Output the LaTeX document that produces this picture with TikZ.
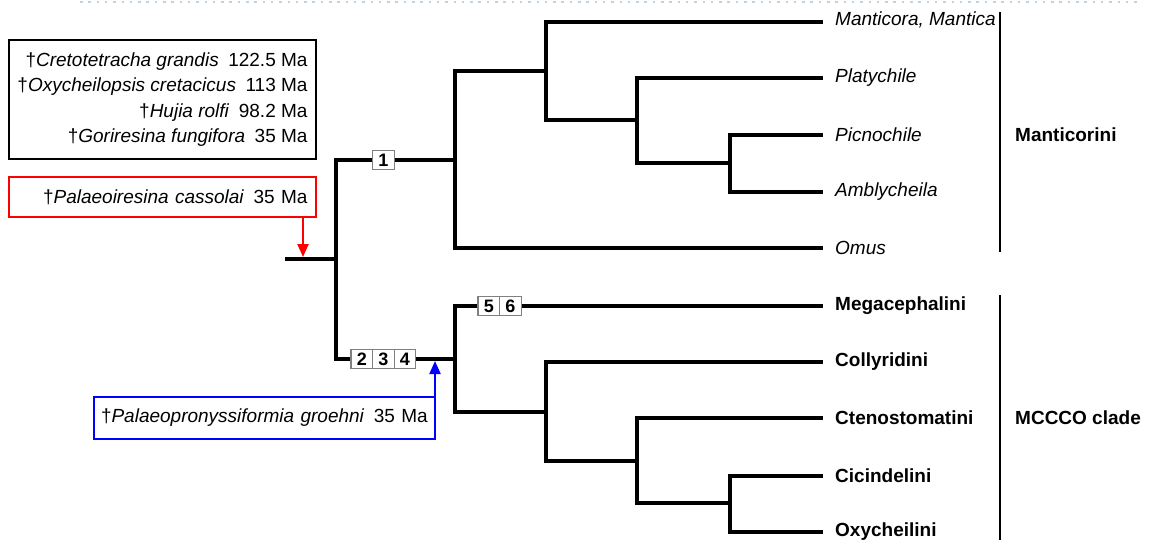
\documentclass[tikz,border=0pt]{standalone}
\usepackage{fontspec}
\setmainfont{Liberation Sans}
\usepackage{tikz}
\usetikzlibrary{arrows.meta}
\usetikzlibrary{positioning}

\begin{document}
\begin{tikzpicture}[x=1pt,y=-1pt,
  br/.style={line width=4pt},
  clade/.style={line width=2pt},
  chbox/.style={draw=gray,line width=1.2pt,fill=white,inner sep=0pt,outer sep=0pt,
    minimum width=21.6pt,minimum height=19.5pt,font=\fontsize{18}{18}\selectfont\bfseries},
  tip/.style={anchor=west,inner sep=0pt,font=\fontsize{19}{22}\selectfont\itshape},
  tribe/.style={anchor=west,inner sep=0pt,font=\fontsize{19}{22}\selectfont\bfseries},
  fossil/.style={inner xsep=8.5pt,inner ysep=0pt,minimum width=307pt,
    font=\fontsize{19}{25.3}\selectfont}]
\useasboundingbox (0,0) rectangle (1156,540);
\clip (0,0) rectangle (1156,540);
\draw[color={rgb,255:red,190;green,210;blue,226},line width=2.5pt,dash pattern=on 2.5pt off 5.8pt] (80,2) -- (1142,2);

\node[fossil,draw=black,line width=1.5pt,align=right,minimum height=119pt] (fos) at (162.5,99.5)
  {\textdagger\textit{Cretotetracha grandis}\hspace{0.5em}122.5 Ma\\
   \textdagger\textit{Oxycheilopsis cretacicus}\hspace{0.5em}113 Ma\\
   \textdagger\textit{Hujia rolfi}\hspace{0.5em}98.2 Ma\\
   \textdagger\textit{Goriresina fungifora}\hspace{0.5em}35 Ma};
\node[fossil,draw=red,line width=1.5pt,align=right,text width=290pt,minimum height=40pt] (pcas) at (162.5,197)
  {\textdagger\textit{Palaeoiresina cassolai}\hspace{0.5em}35 Ma};
\node[fossil,draw=blue,line width=1.8pt,align=left,inner xsep=7pt,text width=327pt,
  minimum width=341pt,minimum height=42pt] (pgro) at (264.5,418)
  {\textdagger\textit{Palaeopronyssiformia groehni}\hspace{0.5em}35 Ma};

\coordinate (r0) at (285,259);
\coordinate (R) at (336,259);
\coordinate (A) at (455,160);
\coordinate (B) at (546,71);
\coordinate (C) at (637,120);
\coordinate (D) at (730,163);
\coordinate (E) at (455,359);
\coordinate (F) at (546,412);
\coordinate (G) at (637,461);
\coordinate (H) at (730,503);
\coordinate (t1) at (823,22);
\coordinate (t2) at (823,78);
\coordinate (t3) at (823,135);
\coordinate (t4) at (823,192);
\coordinate (t5) at (823,248);
\coordinate (t6) at (823,306);
\coordinate (t7) at (823,362);
\coordinate (t8) at (823,418);
\coordinate (t9) at (823,476);
\coordinate (t10) at (823,532);

\draw[br] (r0) -- (R);
\draw[br] (R) |- (A);
\draw[br] (R) |- (E);
\draw[br] (A) |- (B);
\draw[br] (A) |- (t5);
\draw[br] (B) |- (t1);
\draw[br] (B) |- (C);
\draw[br] (C) |- (t2);
\draw[br] (C) |- (D);
\draw[br] (D) |- (t3);
\draw[br] (D) |- (t4);
\draw[br] (E) |- (t6);
\draw[br] (E) |- (F);
\draw[br] (F) |- (t7);
\draw[br] (F) |- (G);
\draw[br] (G) |- (t8);
\draw[br] (G) |- (H);
\draw[br] (H) |- (t9);
\draw[br] (H) |- (t10);

\node[chbox] (k1) at (383.5,160) {1};
\node[chbox] (k2) at (361.8,359) {2};
\node[chbox,right=0pt of k2] (k3) {3};
\node[chbox,right=0pt of k3] (k4) {4};
\node[chbox] (k5) at (488.8,306) {5};
\node[chbox,right=0pt of k5] (k6) {6};

\node[tip,right=12pt of t1,yshift=2pt] (l1) {Manticora, Mantica};
\node[tip,right=12pt of t2] (l2) {Platychile};
\node[tip,right=12pt of t3] (l3) {Picnochile};
\node[tip,right=12pt of t4] (l4) {Amblycheila};
\node[tip,right=12pt of t5] (l5) {Omus};
\node[tribe,right=12pt of t6] (l6) {Megacephalini};
\node[tribe,right=12pt of t7] (l7) {Collyridini};
\node[tribe,right=12pt of t8] (l8) {Ctenostomatini};
\node[tribe,right=12pt of t9] (l9) {Cicindelini};
\node[tribe,right=12pt of t10] (l10) {Oxycheilini};

\coordinate (m1) at (1000,12);
\coordinate (m2) at (1000,252);
\coordinate (n1) at (1000,295);
\coordinate (n2) at (1000,545);
\draw[clade] (m1) -- (m2);
\draw[clade] (n1) -- (n2);
\node[tribe] (mant) at (1015,135) {Manticorini};
\node[tribe] (mccco) at (1015,418) {MCCCO clade};

\coordinate (rt) at (303,257);
\coordinate (bt) at (435,361);
\draw[red,line width=2pt,-{Triangle[width=11pt,length=13pt]}] (pcas.south -| rt) -- (rt);
\draw[blue,line width=2pt,-{Triangle[width=11pt,length=13pt]}] (pgro.north -| bt) -- (bt);
\end{tikzpicture}
\end{document}
